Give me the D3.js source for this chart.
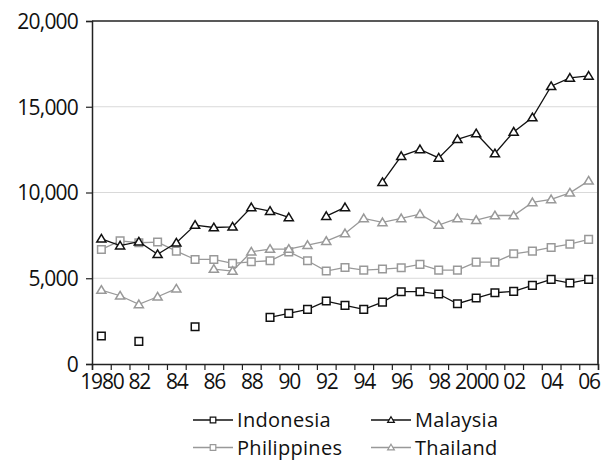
<!DOCTYPE html>
<html>
<head>
<meta charset="utf-8">
<script src="https://cdn.jsdelivr.net/npm/d3@7"></script>
<style>
  body { margin: 0; background: #fff; }
  svg text { font-family: "Open Sans", sans-serif; fill: #111; }
  .x-labels text { font-size: 21px; letter-spacing: -1.2px; }
  .y-axis text { font-size: 21px; letter-spacing: -0.8px; }
  .legend text { font-size: 20px; letter-spacing: 0.3px; }
</style>
</head>
<body>
<div id="chart"></div>
<script>
// values, one entry per year 1980..2006 (null = gap)
var years = d3.range(1980, 2007);
var indonesia = [1630, null, 1320, null, null, 2175, null, null, null, 2720,
                 2950, 3185, 3670, 3420, 3185, 3610, 4215, 4215, 4080, 3515,
                 3845, 4155, 4235, 4585, 4935, 4720, 4935];
var malaysia = [7300, 6900, 7130, 6400, 7070, 8100, 7960, 8000, 9130, 8915,
                8545, null, 8620, 9130, null, 10600, 12120, 12510, 12020, 13100,
                13440, 12275, 13535, 14370, 16195, 16680, 16800];
var philippines = [6680, 7180, 7070, 7110, 6580, 6095, 6095, 5865, 5960, 6020,
                   6540, 6020, 5420, 5630, 5475, 5535, 5610, 5810, 5475, 5475,
                   5940, 5940, 6425, 6580, 6795, 6990, 7265];
var thailand = [4310, 3980, 3475, 3920, 4390, null, 5535, 5420, 6540, 6700,
                6700, 6930, 7165, 7615, 8490, 8255, 8490, 8740, 8100, 8490,
                8390, 8660, 8660, 9420, 9595, 9980, 10680];
var yTicks = [0, 5000, 10000, 15000, 20000];
var xLabelYears = [1980, 1982, 1984, 1986, 1988, 1990, 1992, 1994, 1996, 1998, 2000, 2002, 2004, 2006];

var width = 605, height = 462;
var margin = {top: 21, right: 7, bottom: 98, left: 92};

var svg = d3.select("#chart").append("svg")
    .attr("width", width)
    .attr("height", height);

var x = d3.scaleLinear()
    .domain([1979.5, 2006.5])
    .range([margin.left, width - margin.right]);

var y = d3.scaleLinear()
    .domain([0, 20000])
    .range([height - margin.bottom, margin.top]);

// gridlines
svg.append("g")
    .selectAll("line")
    .data([5000, 10000, 15000])
    .enter().append("line")
    .attr("x1", margin.left)
    .attr("x2", width - margin.right)
    .attr("y1", function(d) { return y(d); })
    .attr("y2", function(d) { return y(d); })
    .style("stroke", "#d9d9d9")
    .style("stroke-width", 1);

// y axis
var yAxis = svg.append("g")
    .attr("class", "y-axis")
    .attr("transform", "translate(" + margin.left + ",0)")
    .call(d3.axisLeft(y).tickValues(yTicks).tickSize(6).tickPadding(8)
          .tickFormat(d3.format(",")));
yAxis.attr("font-family", null).attr("font-size", null);
yAxis.selectAll("text").attr("dy", "0.35em");

// x axis: ticks on year boundaries, labels centred under every second year
var bounds = d3.range(1979.5, 2007, 1);
svg.append("g")
    .attr("transform", "translate(0," + y(0) + ")")
    .call(d3.axisBottom(x).tickValues(bounds).tickSize(6).tickFormat(""));
var xLabels = svg.append("g")
    .attr("class", "x-labels")
    .attr("transform", "translate(0," + y(0) + ")")
    .call(d3.axisBottom(x).tickValues(xLabelYears).tickSize(0).tickPadding(10)
          .tickFormat(function(d) {
              if (d === 1980 || d === 2000) return String(d);
              return String(d).slice(2);
          }))
    .call(function(g) { g.select(".domain").remove(); });
xLabels.attr("font-family", null).attr("font-size", null);

svg.selectAll(".domain").style("stroke", "#222").style("stroke-width", 1.5);
svg.selectAll(".tick line").style("stroke", "#222").style("stroke-width", 1.2);

// top and right frame
svg.append("line")
    .attr("x1", margin.left).attr("x2", width - margin.right)
    .attr("y1", y(20000)).attr("y2", y(20000))
    .style("stroke", "#222").style("stroke-width", 1.5);
svg.append("line")
    .attr("x1", width - margin.right).attr("x2", width - margin.right)
    .attr("y1", y(20000)).attr("y2", y(0))
    .style("stroke", "#444").style("stroke-width", 2);

var series = [
    {name: "Philippines", values: philippines, colour: "#999", shape: "square"},
    {name: "Thailand", values: thailand, colour: "#999", shape: "triangle"},
    {name: "Indonesia", values: indonesia, colour: "#111", shape: "square"},
    {name: "Malaysia", values: malaysia, colour: "#111", shape: "triangle"}
];

var line = d3.line()
    .defined(function(d) { return d != null; })
    .x(function(d, i) { return x(years[i]); })
    .y(function(d) { return y(d); });

function markerPath(shape, s) {
    if (shape === "square") {
        return "M" + (-s) + "," + (-s) + "H" + s + "V" + s + "H" + (-s) + "Z";
    }
    var h = s * 1.15;
    return "M0," + (-h) + "L" + (s * 1.2) + "," + (h * 0.75) + "L" + (-s * 1.2) + "," + (h * 0.75) + "Z";
}

series.forEach(function(s) {
    svg.append("path")
        .attr("d", line(s.values))
        .style("fill", "none")
        .style("stroke", s.colour)
        .style("stroke-width", 1.3);

    var pts = [];
    s.values.forEach(function(v, i) { if (v != null) pts.push({year: years[i], value: v}); });
    svg.append("g")
        .selectAll("path")
        .data(pts)
        .enter().append("path")
        .attr("transform", function(d) { return "translate(" + x(d.year) + "," + y(d.value) + ")"; })
        .attr("d", markerPath(s.shape, 3.8))
        .style("fill", "#fff")
        .style("stroke", s.colour)
        .style("stroke-width", 1.5);
});

// legend
var legendItems = [
    {name: "Indonesia", colour: "#111", shape: "square", x: 193, y: 420},
    {name: "Malaysia", colour: "#111", shape: "triangle", x: 371, y: 420},
    {name: "Philippines", colour: "#999", shape: "square", x: 193, y: 447.5},
    {name: "Thailand", colour: "#999", shape: "triangle", x: 371, y: 447.5}
];
var legend = svg.selectAll(".legend")
    .data(legendItems)
    .enter().append("g")
    .attr("class", "legend")
    .attr("transform", function(d) { return "translate(" + d.x + "," + d.y + ")"; });
legend.append("line")
    .attr("x1", 0).attr("x2", 40)
    .style("stroke", function(d) { return d.colour; })
    .style("stroke-width", 1.3);
legend.append("path")
    .attr("transform", "translate(20,0)")
    .attr("d", function(d) { return markerPath(d.shape, 2.8); })
    .style("fill", "#fff")
    .style("stroke", function(d) { return d.colour; })
    .style("stroke-width", 1.2);
legend.append("text")
    .attr("x", 44)
    .attr("dy", "0.35em")
    .text(function(d) { return d.name; });
</script>
</body>
</html>
